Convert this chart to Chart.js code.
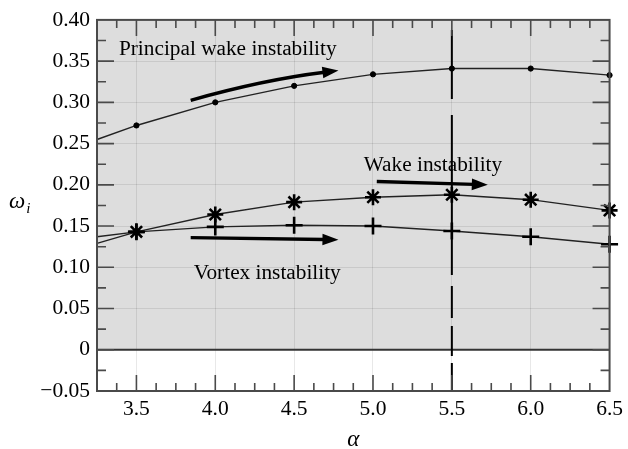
<!DOCTYPE html>
<html>
<head>
<meta charset="utf-8">
<script src="https://cdn.jsdelivr.net/npm/chart.js@4/dist/chart.umd.min.js"></script>
<style>
  html, body { margin: 0; padding: 0; background: #fff; }
  #wrap { width: 628px; height: 449px; }
</style>
</head>
<body>
<div id="wrap"><canvas id="chart"></canvas></div>
<script>
// alpha values where the curves were computed
const alpha = [3.5, 4.0, 4.5, 5.0, 5.5, 6.0, 6.5];
const principalWake = [0.272, 0.300, 0.320, 0.334, 0.341, 0.341, 0.333];
const wake = [0.143, 0.164, 0.179, 0.185, 0.188, 0.182, 0.169];
const vortex = [0.143, 0.149, 0.151, 0.150, 0.144, 0.137, 0.128];

// the curves run on to the left edge of the frame
const edgeAlpha = 3.25;
const edgePrincipal = 0.255;
const edgeWake = 0.129;
const edgeVortex = 0.137;

const xTicks = [3.5, 4.0, 4.5, 5.0, 5.5, 6.0, 6.5];
const yTicks = [-0.05, 0, 0.05, 0.10, 0.15, 0.20, 0.25, 0.30, 0.35, 0.40];

// annotations (data coordinates)
const notes = [
    { text: 'Principal wake instability', at: [3.389, 0.3578] },
    { text: 'Wake instability', at: [4.941, 0.2173] },
    { text: 'Vortex instability', at: [3.864, 0.0859] },
];
const arrows = [
    { from: [3.844, 0.3025], via: [4.31, 0.3276], to: [4.781, 0.3385] },
    { from: [5.024, 0.204], to: [5.728, 0.200] },
    { from: [3.844, 0.136], to: [4.781, 0.1335] },
];

const serif = '"Liberation Serif", "DejaVu Serif", serif';
const ink = '#4a4a4a';

function series(edge, values) {
    return [{ x: edgeAlpha, y: edge }].concat(alpha.map((a, i) => ({ x: a, y: values[i] })));
}

function lineSet(label, data, style, radius, width) {
    return {
        label: label,
        data: data,
        borderColor: '#222',
        borderWidth: 1.4,
        pointStyle: style,
        pointRadius: ctx => ctx.dataIndex === 0 ? 0 : radius,
        pointBorderColor: '#000',
        pointBackgroundColor: '#000',
        pointBorderWidth: width,
        tension: 0,
        clip: false,
    };
}

const decor = {
    id: 'decor',
    beforeDraw(chart) {
        const { ctx, chartArea: a, scales: { y } } = chart;
        ctx.save();
        ctx.fillStyle = '#dddddd';
        ctx.fillRect(a.left, y.getPixelForValue(0.40), a.right - a.left, y.getPixelForValue(0) - y.getPixelForValue(0.40));
        ctx.restore();
    },
    beforeDatasetsDraw(chart) {
        const { ctx, chartArea: a, scales: { x, y } } = chart;
        ctx.save();
        // zero line
        ctx.strokeStyle = '#333';
        ctx.lineWidth = 2;
        ctx.beginPath();
        ctx.moveTo(a.left, y.getPixelForValue(0));
        ctx.lineTo(a.right, y.getPixelForValue(0));
        ctx.stroke();
        // dashed line at alpha = 5.5 (uneven dashes as in the original)
        ctx.strokeStyle = '#000';
        ctx.setLineDash([69, 16, 160, 11, 32, 8, 30, 7, 40]);
        ctx.beginPath();
        ctx.moveTo(x.getPixelForValue(5.5), a.top + 10);
        ctx.lineTo(x.getPixelForValue(5.5), a.bottom);
        ctx.stroke();
        ctx.restore();
    },
    afterDraw(chart) {
        const { ctx, chartArea: a, scales: { x, y } } = chart;
        ctx.save();
        // frame
        ctx.strokeStyle = ink;
        ctx.lineWidth = 2;
        ctx.strokeRect(a.left, a.top, a.right - a.left, a.bottom - a.top);

        // inward ticks, major and minor
        ctx.lineWidth = 1.6;
        ctx.beginPath();
        for (let k = 1; k < 26; k++) {
            const v = 3.25 + k * 0.125;
            const major = xTicks.some(t => Math.abs(t - v) < 1e-6);
            const px = x.getPixelForValue(v);
            const len = major ? 16 : 8;
            ctx.moveTo(px, a.bottom); ctx.lineTo(px, a.bottom - len);
            ctx.moveTo(px, a.top); ctx.lineTo(px, a.top + len);
        }
        for (let k = 1; k < 18; k++) {
            const v = -0.05 + k * 0.025;
            const major = yTicks.some(t => Math.abs(t - v) < 1e-6);
            const py = y.getPixelForValue(v);
            const len = major ? 17 : 9;
            ctx.moveTo(a.left, py); ctx.lineTo(a.left + len, py);
            ctx.moveTo(a.right, py); ctx.lineTo(a.right - len, py);
        }
        ctx.stroke();

        // arrows
        ctx.strokeStyle = '#000';
        ctx.fillStyle = '#000';
        arrows.forEach(ar => {
            const p0 = [x.getPixelForValue(ar.from[0]), y.getPixelForValue(ar.from[1])];
            const p1 = [x.getPixelForValue(ar.to[0]), y.getPixelForValue(ar.to[1])];
            const c = ar.via ? [x.getPixelForValue(ar.via[0]), y.getPixelForValue(ar.via[1])] : null;
            const dir = c ? [p1[0] - c[0], p1[1] - c[1]] : [p1[0] - p0[0], p1[1] - p0[1]];
            const n = Math.hypot(dir[0], dir[1]);
            const ux = dir[0] / n, uy = dir[1] / n;
            const headLen = 16, headW = 5.8;
            const base = [p1[0] - ux * headLen, p1[1] - uy * headLen];
            ctx.lineWidth = 3.4;
            ctx.beginPath();
            ctx.moveTo(p0[0], p0[1]);
            if (c) ctx.quadraticCurveTo(c[0], c[1], base[0] + ux * 2, base[1] + uy * 2);
            else ctx.lineTo(base[0] + ux * 2, base[1] + uy * 2);
            ctx.stroke();
            ctx.beginPath();
            ctx.moveTo(p1[0], p1[1]);
            ctx.lineTo(base[0] - uy * headW, base[1] + ux * headW);
            ctx.lineTo(base[0] + uy * headW, base[1] - ux * headW);
            ctx.closePath();
            ctx.fill();
        });

        // annotation text
        ctx.font = '21.3px ' + serif;
        ctx.textAlign = 'left';
        ctx.textBaseline = 'alphabetic';
        notes.forEach(nt => {
            ctx.fillText(nt.text, x.getPixelForValue(nt.at[0]), y.getPixelForValue(nt.at[1]));
        });

        // axis titles
        ctx.font = 'italic 23px ' + serif;
        ctx.textAlign = 'center';
        ctx.fillText('\u03b1', (a.left + a.right) / 2, 446);
        ctx.textAlign = 'left';
        ctx.fillText('\u03c9', 9, 208);
        const w = ctx.measureText('\u03c9').width;
        ctx.font = 'italic 15px ' + serif;
        ctx.fillText('i', 9 + w + 1, 213);
        ctx.restore();
    },
};

new Chart(document.getElementById('chart').getContext('2d'), {
    type: 'line',
    data: {
        datasets: [
            lineSet('Principal wake instability', series(edgePrincipal, principalWake), 'circle', 2.6, 1),
            lineSet('Wake instability', series(edgeWake, wake), 'star', 8, 2.6),
            lineSet('Vortex instability', series(edgeVortex, vortex), 'cross', 8.5, 2.6),
        ],
    },
    options: {
        responsive: true,
        maintainAspectRatio: false,
        animation: false,
        layout: { padding: { top: 12, right: 11, left: 0, bottom: 0 } },
        plugins: { legend: { display: false }, tooltip: { enabled: false } },
        scales: {
            x: {
                type: 'linear',
                min: 3.25,
                max: 6.5,
                afterBuildTicks: s => { s.ticks = xTicks.map(v => ({ value: v })); },
                afterFit: s => { s.height = 58; },
                ticks: {
                    callback: v => v.toFixed(1),
                    color: '#000',
                    font: { family: serif, size: 21.5 },
                    padding: 5,
                    maxRotation: 0,
                },
                grid: { color: 'rgba(0,0,0,0.09)', lineWidth: 1, drawTicks: false },
                border: { display: false },
            },
            y: {
                type: 'linear',
                min: -0.05,
                max: 0.40,
                afterBuildTicks: s => { s.ticks = yTicks.map(v => ({ value: v })); },
                afterFit: s => { s.width = 97; },
                ticks: {
                    callback: v => Math.abs(v) < 1e-9 ? '0' : (v < 0 ? '\u2212' : '') + Math.abs(v).toFixed(2),
                    color: '#000',
                    font: { family: serif, size: 21.5 },
                    padding: 7,
                },
                grid: { color: 'rgba(0,0,0,0.09)', lineWidth: 1, drawTicks: false },
                border: { display: false },
            },
        },
    },
    plugins: [decor],
});
</script>
</body>
</html>
